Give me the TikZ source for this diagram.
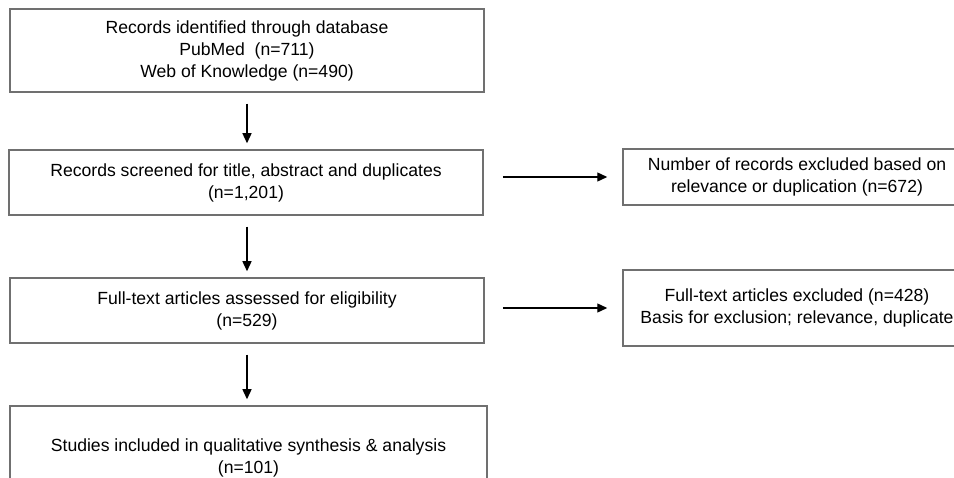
\documentclass[tikz,border=0pt]{standalone}
\usepackage{fontspec}
\setmainfont{Liberation Sans}
\usetikzlibrary{arrows.meta}
\definecolor{boxgray}{HTML}{707070}
\begin{document}
\begin{tikzpicture}[x=1pt,y=1pt,
  box/.style={draw=boxgray,line width=1.5pt,fill=white,align=center,inner sep=0pt,
    font=\fontsize{17.6}{22}\selectfont},
  arr/.style={line width=1.3pt,-{Triangle[length=10pt,width=9pt]}}]
\useasboundingbox (0,0) rectangle (954,-478);
\clip (0,0) rectangle (954,-478);
\fill[white] (0,0) rectangle (954,-478);
\node[box,minimum width=474pt,minimum height=83pt] (b1) at (247,-50.5)
  {Records identified through database\\PubMed\ \ (n=711)\\Web of Knowledge (n=490)};
\node[box,minimum width=474pt,minimum height=65pt] (b2) at (246,-182.5)
  {Records screened for title, abstract and duplicates\\(n=1,201)};
\node[box,minimum width=474pt,minimum height=65pt] (b3) at (247,-310.5)
  {Full-text articles assessed for eligibility\\(n=529)};
\node[box,minimum width=477pt,minimum height=103pt] (b4) at (248.5,-457.5)
  {Studies included in qualitative synthesis \& analysis\\(n=101)};
\node[box,minimum width=348pt,minimum height=56pt] (r1) at (797,-177)
  {Number of records excluded based on\\relevance or duplication (n=672)};
\node[box,minimum width=348pt,minimum height=76pt] (r2) at (797,-308)
  {Full-text articles excluded (n=428)\\Basis for exclusion; relevance, duplicate};
\coordinate (v1s) at ([yshift=-11pt]b1.south -| 247,0);
\coordinate (v1e) at ([yshift=6pt]b2.north -| 247,0);
\coordinate (v2s) at ([yshift=-11pt]b2.south -| 247,0);
\coordinate (v2e) at ([yshift=6pt]b3.north -| 247,0);
\coordinate (v3s) at ([yshift=-11pt]b3.south -| 247,0);
\coordinate (v3e) at ([yshift=6pt]b4.north -| 247,0);
\draw[arr] (v1s) -- (v1e);
\draw[arr] (v2s) -- (v2e);
\draw[arr] (v3s) -- (v3e);
\draw[arr] ([xshift=19pt]b2.east |- r1.west) -- ([xshift=-15pt]r1.west);
\draw[arr] ([xshift=18pt]b3.east |- r2.west) -- ([xshift=-15pt]r2.west);
\end{tikzpicture}
\end{document}
